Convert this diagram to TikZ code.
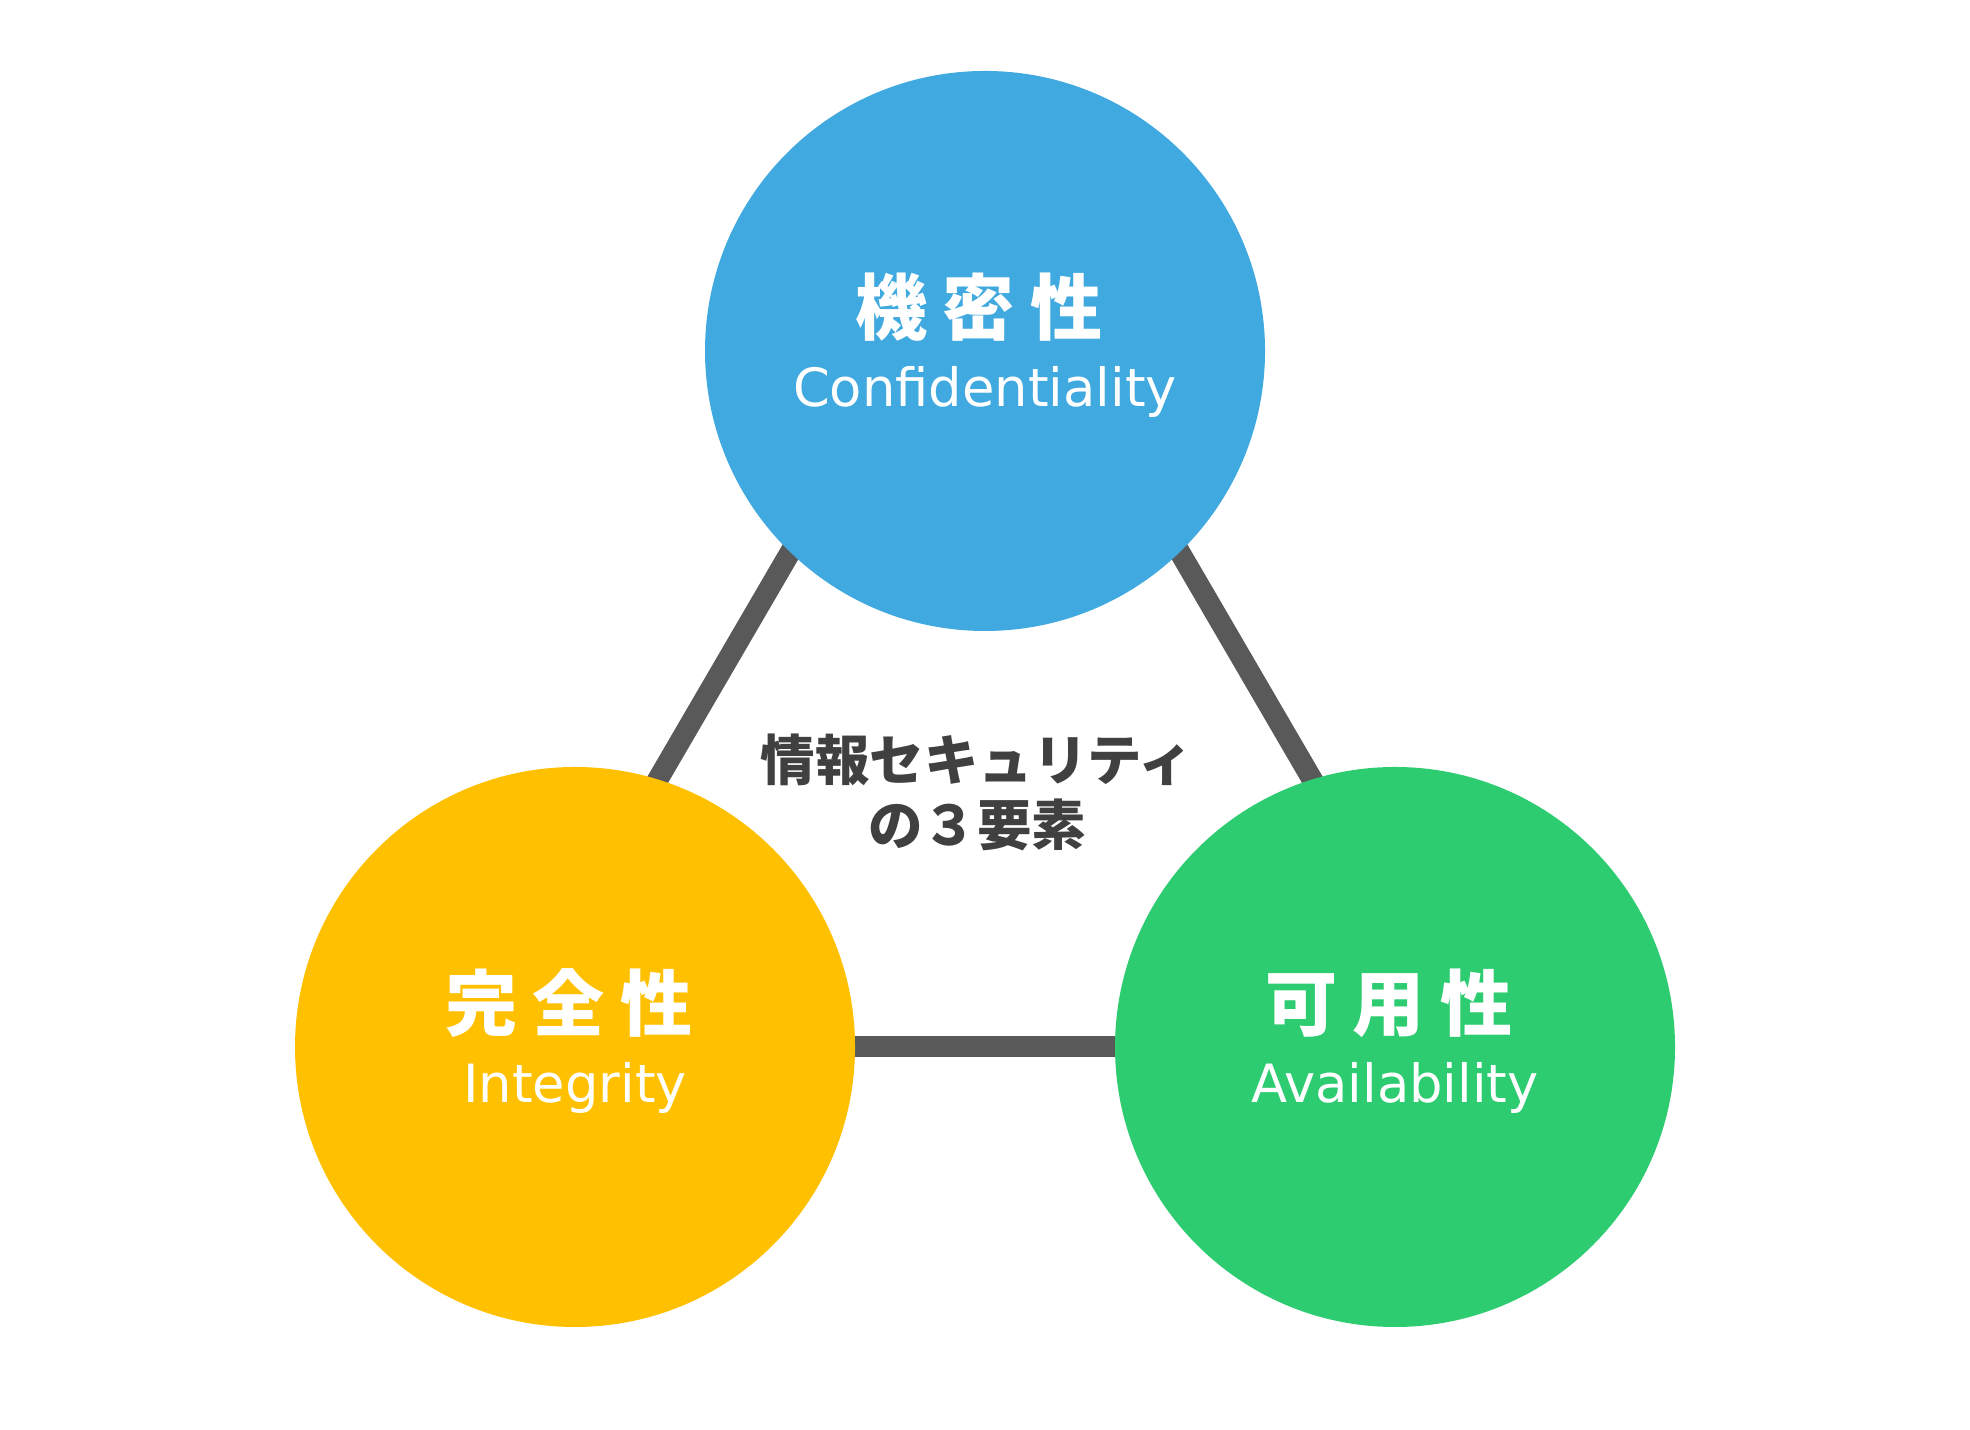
\documentclass[tikz,border=0pt]{standalone}
\usepackage{fontspec}
\newfontfamily\jpfont{Noto Sans CJK JP}
\newfontfamily\enfont{DejaVu Sans}
\definecolor{confblue}{RGB}{64,169,224}
\definecolor{integyellow}{RGB}{255,192,0}
\definecolor{availgreen}{RGB}{46,204,113}
\definecolor{linkgray}{RGB}{89,89,89}
\definecolor{coregray}{RGB}{64,64,64}
\tikzset{
  elem/.style={circle, minimum size=5.6cm, inner sep=0pt},
  link/.style={color=linkgray, line width=0.21cm},
  kanji/.style={text=white, anchor=base, inner sep=0pt, font=\jpfont\bfseries\fontsize{20.5}{24}\selectfont},
  roman/.style={text=white, anchor=base, inner sep=0pt, font=\enfont\fontsize{15}{18}\selectfont},
  core/.style={text=coregray, anchor=base, inner sep=0pt, font=\jpfont\bfseries\fontsize{15.5}{18}\selectfont}
}
\begin{document}
\begin{tikzpicture}
\fill[white] (0,0) rectangle (19.70,14.30);
\useasboundingbox (0,0) rectangle (19.70,14.30);
% triangle behind the circles
\coordinate (v1) at (5.02,3.83);
\coordinate (v2) at (9.85,12.12);
\coordinate (v3) at (14.68,3.83);
\draw[link] (v1) -- (v2);
\draw[link] (v2) -- (v3);
\draw[link] (v3) -- (v1);
% the three elements
\node[elem, fill=confblue] (conf) at (9.85,10.79) {};
\node[elem, fill=integyellow] (integ) at (5.75,3.83) {};
\node[elem, fill=availgreen] (avail) at (13.95,3.83) {};
\node[kanji] (conft) at ([xshift=-0.06cm, yshift=0.16cm]conf.center) {機\hspace{4.3pt}密\hspace{4.3pt}性};
\node[roman] (confl) at ([yshift=-0.56cm]conf.center) {Confidentiality};
\node[kanji] (integt) at ([xshift=-0.06cm, yshift=0.16cm]integ.center) {完\hspace{4.3pt}全\hspace{4.3pt}性};
\node[roman] (integl) at ([yshift=-0.56cm]integ.center) {Integrity};
\node[kanji] (availt) at ([xshift=-0.06cm, yshift=0.16cm]avail.center) {可\hspace{4.3pt}用\hspace{4.3pt}性};
\node[roman] (availl) at ([yshift=-0.56cm]avail.center) {Availability};
% title in the middle
\node[core] (core1) at (9.77,6.49) {情報セキュリティ};
\node[core] (core2) at (9.77,5.84) {の３要素};
\end{tikzpicture}
\end{document}
